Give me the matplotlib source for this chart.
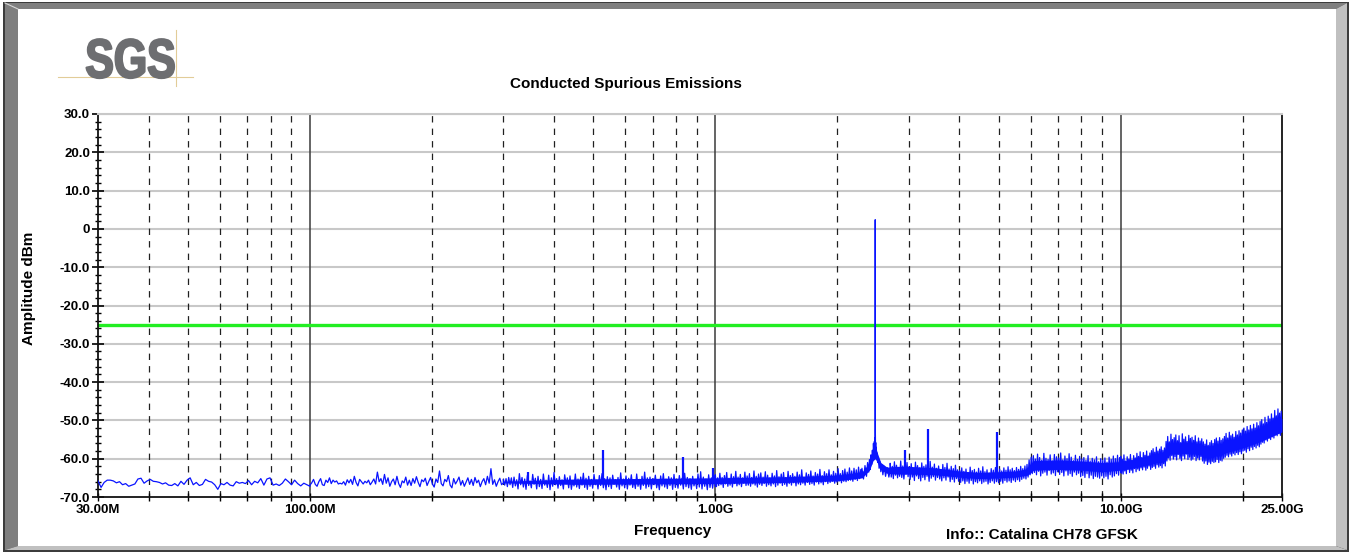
import numpy as np
import matplotlib
matplotlib.use('Agg')
import matplotlib.pyplot as plt
from matplotlib.patches import Polygon
from matplotlib.patheffects import AbstractPathEffect
from matplotlib.transforms import Affine2D
from matplotlib.ticker import FixedLocator, FixedFormatter, NullFormatter

# ---------------- data (frequency in MHz, amplitude in dBm) ----------------
title = "Conducted Spurious Emissions"
x_label = "Frequency"
y_label = "Amplitude dBm"
info_text = "Info:: Catalina CH78 GFSK"
logo_text = "SGS"

limit_dbm = -25.0

x_tick_mhz = [30, 100, 1000, 10000, 25000]
x_tick_labels = ["30.00M", "100.00M", "1.00G", "10.00G", "25.00G"]
y_tick_vals = [30, 20, 10, 0, -10, -20, -30, -40, -50, -60, -70]
y_tick_labels = ["30.0", "20.0", "10.0", "0", "-10.0", "-20.0", "-30.0",
                 "-40.0", "-50.0", "-60.0", "-70.0"]
grid_decades = [100, 1000, 10000]
grid_minor = [40, 50, 60, 70, 80, 90, 200, 300, 400, 500, 600, 700, 800, 900,
              2000, 3000, 4000, 5000, 6000, 7000, 8000, 9000, 20000]

# sweep segments: (start MHz, stop MHz) and read-off amplitudes
seg_a_range = (30, 100)
seg_a = [-65.8, -67.5, -66.2, -65.6, -65.6, -65.8, -66.3, -66.0, -66.8, -66.5,
         -67.2, -66.9, -66.6, -65.3, -65.1, -66.4, -65.8, -65.4, -65.9, -66.0,
         -66.2, -66.6, -66.3, -66.9, -67.0, -66.5, -67.1, -65.9, -66.7, -65.6,
         -65.0, -66.8, -66.2, -67.0, -66.7, -65.4, -65.9, -66.1, -66.8, -68.0,
         -66.5, -66.8, -66.2, -66.9, -67.1, -66.0, -66.4, -66.2, -66.5, -65.7,
         -66.8, -65.9, -66.3, -65.2, -66.9, -65.3, -65.0, -66.9, -66.6, -67.0,
         -66.4, -65.3, -66.0, -66.8, -65.6, -66.5, -67.1, -66.4, -66.8, -67.2]

seg_b_range = (100, 300)
seg_b = [-66.9, -66.3, -65.4, -66.7, -67.2, -66.0, -65.2, -66.8, -67.0, -65.6,
         -66.2, -65.0, -66.5, -65.6, -66.1, -65.8, -66.6, -66.4, -66.6, -66.0,
         -66.9, -65.5, -66.3, -65.4, -66.7, -64.6, -66.2, -67.1, -65.4, -66.0,
         -66.6, -65.9, -66.3, -65.6, -66.8, -66.1, -65.3, -66.6, -63.5, -66.0,
         -65.2, -66.7, -64.1, -66.4, -65.0, -67.2, -66.0, -65.3, -66.8, -64.6,
         -66.5, -67.5, -65.8, -66.3, -64.8, -66.9, -65.6, -67.0, -65.2, -66.4,
         -64.7, -66.2, -67.3, -65.5, -66.0, -65.1, -67.0, -65.9, -64.9, -66.6,
         -67.4, -65.3, -66.2, -63.2, -66.5, -67.1, -65.4, -66.0, -64.4, -66.9,
         -67.6, -65.2, -66.6, -65.8, -64.8, -66.9, -65.7, -67.2, -66.1, -65.0,
         -66.7, -65.4, -67.0, -64.9, -66.3, -65.6, -67.3, -66.0, -65.2, -66.8,
         -64.6, -66.4, -62.6, -66.7, -65.5, -67.2, -66.0, -65.1, -66.8, -66.3]

seg_c_range = (300, 1000)
seg_c = [-65.4, -66.9, -65.2, -67.3, -64.9, -66.8, -65.0, -67.5, -64.8, -67.1,
         -65.5, -67.9, -63.9, -66.8, -64.9, -67.4, -65.3, -68.0, -64.4, -67.0,
         -65.8, -67.6, -64.1, -66.7, -65.1, -67.9, -64.6, -67.3, -65.4, -67.8,
         -64.0, -66.9, -65.6, -67.5, -64.3, -68.1, -65.0, -67.2, -63.6, -66.8,
         -65.2, -67.7, -64.7, -67.0, -65.5, -67.9, -64.2, -66.6, -65.0, -67.6,
         -64.5, -68.0, -65.7, -67.1, -64.0, -67.4, -65.3, -67.8, -64.8, -66.9,
         -63.8, -67.5, -65.1, -68.0, -64.6, -67.2, -65.4, -67.7, -64.1, -66.8,
         -65.6, -67.9, -64.4, -67.0, -63.9, -67.6, -65.2, -68.1, -64.7, -67.3,
         -65.0, -67.8, -64.3, -66.7, -65.5, -67.4, -64.9, -68.0, -63.7, -67.1,
         -65.3, -67.6, -64.5, -67.9, -65.1, -66.9, -64.2, -67.5, -65.6, -67.8,
         -64.0, -67.2, -65.4, -68.0, -64.6, -67.0, -63.5, -67.7, -65.0, -67.3,
         -64.8, -67.9, -65.2, -66.8, -64.3, -67.6, -65.7, -68.1, -64.5, -67.1,
         -63.9, -67.4, -65.3, -67.8, -64.7, -67.0, -65.0, -68.0, -64.1, -67.5,
         -65.5, -67.7, -64.4, -66.9, -65.1, -67.9, -63.8, -67.3, -64.9, -67.6,
         -65.2, -68.0, -64.6, -67.1, -65.4, -67.8, -64.0, -67.4, -63.4, -67.9,
         -64.8, -67.2, -65.3, -68.1, -64.2, -67.5, -65.0, -67.7, -64.5, -67.3]

seg_d_range = (1000, 2300)
seg_d = [-64.2, -67.3, -65.0, -67.0, -63.8, -66.8, -64.9, -67.5, -64.4, -66.6,
         -63.6, -67.2, -65.1, -66.9, -64.0, -67.4, -64.7, -66.5, -63.3, -67.1,
         -64.8, -66.8, -64.1, -67.3, -65.0, -66.4, -63.5, -67.0, -64.5, -66.9,
         -63.9, -67.2, -64.9, -66.6, -63.2, -66.9, -64.6, -67.4, -64.0, -66.7,
         -63.7, -67.0, -64.8, -66.5, -63.4, -67.2, -64.3, -66.8, -65.0, -67.1,
         -63.8, -66.6, -64.5, -67.3, -63.1, -66.9, -64.7, -66.4, -64.0, -67.0,
         -63.6, -66.7, -64.9, -67.2, -63.3, -66.5, -64.4, -66.9, -63.9, -66.3,
         -64.6, -67.1, -63.5, -66.6, -64.2, -66.8, -62.9, -66.4, -64.8, -66.9,
         -63.7, -66.2, -64.1, -66.7, -63.2, -66.5, -64.5, -66.9, -63.6, -66.1,
         -64.0, -66.6, -62.8, -66.3, -64.4, -66.8, -63.4, -66.0, -63.9, -66.5,
         -62.9, -66.2, -64.2, -65.9, -63.3, -66.4, -63.8, -66.1, -62.6, -65.8,
         -63.9, -66.3, -63.1, -65.9, -62.7, -66.0, -63.5, -65.7, -62.4, -65.6,
         -63.2, -65.9, -62.5, -65.4, -62.9, -65.7, -62.2, -65.2, -62.8, -64.9]

peak_mhz = [2300, 2320, 2340, 2360, 2375, 2390, 2400, 2410, 2420, 2430,
            2440, 2448, 2455, 2462, 2468, 2472, 2475, 2477, 2478, 2479,
            2480, 2481, 2482, 2484, 2487, 2490, 2495, 2500, 2507, 2515,
            2525, 2535, 2548, 2560, 2575, 2590, 2610, 2630, 2655, 2680, 2700]
peak_dbm = [-62.5, -65.3, -61.8, -64.6, -61.0, -63.5, -60.2, -62.8, -59.0, -61.5,
            -57.8, -60.2, -56.0, -59.0, -55.5, -57.0, -54.5, -56.5, -52.0, -30.0,
            2.4, -30.0, -53.0, -56.8, -55.8, -58.2, -57.0, -59.6, -58.5, -61.0,
            -59.8, -62.5, -60.8, -63.4, -61.6, -64.2, -62.0, -64.6, -62.3, -64.8,
            -63.0]

seg_e_range = (2700, 10000)
seg_e = [-61.2, -64.8, -62.0, -65.2, -60.8, -64.3, -61.7, -65.0, -62.3, -64.6,
         -60.6, -64.9, -61.9, -65.3, -62.4, -64.1, -61.0, -64.7,
         -62.1, -65.4, -61.3, -64.8, -62.6, -65.7, -60.9, -64.5, -61.8, -65.2,
         -62.4, -65.8, -61.1, -64.9, -62.0, -65.5, -61.6, -64.6, -62.8, -65.9,
         -60.7, -65.1, -62.2, -64.7, -61.4, -65.6, -62.5, -64.9, -61.9, -65.3,
         -62.9, -65.8, -61.5, -65.0, -62.3, -65.6, -61.2, -64.8, -62.7, -66.0,
         -62.0, -65.4, -62.6, -66.1, -61.7, -65.2, -62.9, -65.9,
         -63.0, -66.2, -62.4, -65.8, -63.3, -66.5, -62.7, -65.9, -63.6, -66.4,
         -62.2, -65.7, -63.1, -66.6, -62.8, -66.0, -63.5, -66.3, -62.5, -65.8,
         -63.2, -66.5, -62.1, -66.1, -63.4, -65.9, -62.9, -66.6, -63.7, -66.2,
         -62.6, -65.8, -63.0, -66.4, -62.3, -66.0, -63.3,
         -66.3, -62.7, -65.9, -63.2, -66.4, -62.4, -65.7, -63.0, -66.1, -62.1,
         -65.8, -62.9, -66.2, -62.5, -65.6, -63.1, -66.0, -62.3, -65.5, -62.8,
         -65.9, -62.0, -65.4, -62.6, -65.1, -61.9, -65.3, -61.5,
         -64.8, -60.3, -64.2, -59.6, -63.9,
         -59.2, -63.6, -60.1, -64.2, -58.8, -63.3, -59.7, -64.5, -60.4, -63.8,
         -58.6, -63.5, -59.9, -64.3, -60.2, -63.1, -59.0, -64.0, -60.6, -63.7,
         -58.9, -64.4, -59.5, -63.4,
         -59.8, -64.1, -58.5, -63.6, -60.3, -64.5, -59.3, -63.2, -60.0, -64.3,
         -58.7, -63.9, -59.6, -64.6, -60.5, -63.5, -59.1, -64.2, -60.2, -63.8,
         -59.4, -64.7, -60.1,
         -64.4, -59.7, -64.9, -60.4, -63.9, -59.2, -65.0, -60.6, -64.3, -59.9,
         -65.2, -60.3, -64.6, -59.5, -64.8, -60.8, -65.1, -60.0, -64.5,
         -60.4, -65.0, -59.8, -64.6, -60.9, -65.3, -59.6, -64.2, -60.2, -64.8,
         -59.3, -64.5, -60.0, -63.9, -59.1, -64.3, -59.7, -63.6]

seg_f_range = (10000, 25000)
seg_f = [-59.4, -63.8, -60.2, -64.0, -59.0, -63.2, -60.6, -63.9, -59.5, -62.8,
         -60.1, -63.6, -58.9, -63.0, -60.4, -63.7, -59.2, -62.6, -59.8, -63.4,
         -58.6, -62.7, -59.4, -63.1, -58.2, -62.4, -59.7, -62.9, -58.4, -62.2,
         -59.1, -63.0, -58.0, -62.5, -59.3, -61.9, -58.5, -62.8, -57.9, -62.3,
         -57.4, -62.0, -58.3, -62.5, -57.0, -61.6, -58.0, -62.2, -57.5, -61.8,
         -56.9, -62.4, -57.8, -61.3, -57.2, -61.9, -55.5, -60.6,
         -54.2, -59.8, -55.6, -60.4, -53.6, -59.2, -55.0, -60.1, -54.5, -59.5,
         -53.8, -60.3, -55.3, -58.9, -54.0, -59.9, -55.8, -60.5, -53.5, -59.3,
         -54.9, -60.0, -54.3, -58.8, -55.5, -60.2, -53.9, -59.6, -54.7, -60.4,
         -54.4, -60.1, -55.2, -59.4, -54.0, -60.5, -55.6, -59.8, -54.6, -60.3,
         -55.4, -59.5, -54.8, -60.6,
         -55.6, -61.2, -56.2, -60.6, -55.1, -61.5, -56.5, -60.9, -55.8, -61.3,
         -55.3, -60.7, -56.0, -61.0,
         -55.0, -60.8, -54.6, -60.2, -55.4, -61.0, -54.5, -60.4, -55.2, -60.6,
         -54.8, -59.9,
         -54.2, -59.6, -53.4, -59.1, -54.6, -59.5, -53.1, -58.8, -54.0, -59.3,
         -53.6, -58.6, -54.4, -59.0, -52.9, -58.4, -53.8, -58.9, -52.7, -58.2,
         -53.3, -58.7, -52.5, -58.0,
         -52.0, -57.8, -52.8, -58.3, -51.6, -57.4, -52.5, -57.9, -51.3, -57.0,
         -52.2, -57.6, -51.0, -56.8, -52.0, -57.2, -50.6, -56.5, -51.4, -56.9,
         -50.3, -56.2, -49.8, -55.7, -50.9, -55.9, -49.2, -55.1, -50.5, -55.4,
         -48.9, -54.7, -49.6, -55.0, -48.3, -54.3, -49.4, -54.6, -47.4, -53.8,
         -48.8, -54.0, -47.0, -53.4, -48.1, -53.9, -47.6, -53.0]

# dense noise band core
band_mhz = [300, 450, 1000, 1500, 2000, 2300, 2400, 2450, 2480, 2510, 2560,
            2650, 2800, 3000, 3500, 4000, 4500, 5000, 5500, 5900, 6100, 7000,
            8000, 9000, 10000, 11000, 12000, 12800, 13200, 15000, 16000, 17000,
            18000, 20000, 22000, 25000]
band_lo = [-66.3, -66.7, -66.5, -66.2, -65.8, -65.0, -63.0, -60.5, -60.0, -61.0,
           -62.8, -63.8, -64.0, -64.0, -64.2, -64.8, -65.2, -65.0, -64.8, -64.3,
           -63.0, -62.8, -63.0, -63.4, -63.0, -62.2, -61.2, -60.8, -58.8, -58.6,
           -59.2, -59.4, -58.6, -57.2, -55.6, -53.0]
band_hi = [-65.9, -65.3, -65.0, -64.7, -64.3, -63.5, -61.0, -58.0, -56.5, -58.5,
           -61.0, -62.2, -62.0, -62.0, -62.4, -63.2, -63.6, -63.4, -63.2, -62.6,
           -60.5, -60.3, -60.6, -61.0, -60.8, -60.0, -59.0, -58.5, -56.0, -55.8,
           -56.5, -56.8, -56.0, -54.2, -52.6, -49.5]

# isolated spurious spikes
spike_mhz = [346, 528, 834, 989, 2930, 3340, 4960]
spike_base = [-66.0, -66.0, -66.0, -66.0, -63.0, -63.0, -64.0]
spike_top = [-63.5, -57.7, -59.6, -62.4, -57.7, -52.2, -53.0]


class XScaleEffect(AbstractPathEffect):
    """Squeeze text glyphs horizontally around x0 (display px) and embolden."""
    def __init__(self, sx, x0, stroke):
        super().__init__()
        self.sx, self.x0, self.stroke = sx, x0, stroke

    def draw_path(self, renderer, gc, tpath, affine, rgbFace=None):
        aff = affine + Affine2D().translate(-self.x0, 0).scale(self.sx, 1) \
            .translate(self.x0, 0)
        gc0 = renderer.new_gc()
        gc0.copy_properties(gc)
        gc0.set_linewidth(self.stroke)
        gc0.set_foreground(rgbFace)
        renderer.draw_path(gc0, tpath, aff, rgbFace)
        gc0.restore()


# ---------------- figure ----------------
W, H = 1350, 552
plt.rcParams['lines.scale_dashes'] = False
FONT = ['Liberation Sans', 'DejaVu Sans']
plt.rcParams['font.family'] = FONT

fig = plt.figure(figsize=(W / 100, H / 100), dpi=100)
fig.patch.set_facecolor('white')

# beveled frame
bg = fig.add_axes([0, 0, 1, 1], zorder=-5)
bg.set_xlim(0, W)
bg.set_ylim(H, 0)
bg.axis('off')
bg.add_patch(Polygon([(3, 2), (1349, 2), (1349, 552), (3, 552)], closed=True,
                     facecolor='#3c3c3c', edgecolor='none'))
bg.add_patch(Polygon([(5, 3), (1347, 3), (1336, 9), (18, 9)], closed=True,
                     facecolor='#7f7f7f', edgecolor='none'))
bg.add_patch(Polygon([(5, 3), (18, 9), (18, 546), (5, 550)], closed=True,
                     facecolor='#7f7f7f', edgecolor='none'))
bg.add_patch(Polygon([(1347, 3), (1336, 9), (1336, 546), (1347, 550)], closed=True,
                     facecolor='#c0c0c0', edgecolor='none'))
bg.add_patch(Polygon([(5, 550), (18, 546), (1336, 546), (1347, 550)], closed=True,
                     facecolor='#c0c0c0', edgecolor='none'))
bg.add_patch(Polygon([(18, 9), (1336, 9), (1336, 546), (18, 546)], closed=True,
                     facecolor='white', edgecolor='none'))
bg.plot([5, 18], [3, 9], color='#d8d8d8', lw=0.8)

# SGS logo
bg.plot([58, 193], [77, 77], color='#e2cc98', lw=0.8)
bg.plot([176, 176], [30, 86], color='#e2cc98', lw=0.8)
bg.text(130.5, 77.5, logo_text, ha='center', va='baseline', fontsize=39.5,
        fontweight='bold', color='#6d6e71',
        path_effects=[XScaleEffect(0.78, 130.5, 1.6)])

# texts
fig.text(626 / W, 1 - 84 / H, title, ha='center', va='center',
         fontsize=11, fontweight='bold')
fig.text(673 / W, 1 - 531 / H, x_label, ha='center', va='center',
         fontsize=11, fontweight='bold')
fig.text(1042 / W, 1 - 535 / H, info_text, ha='center', va='center',
         fontsize=11, fontweight='bold')
fig.text(29 / W, 1 - 288 / H, y_label, ha='center', va='center',
         rotation=90, fontsize=11, fontweight='bold')

# main axes
ax = fig.add_axes([98 / W, 1 - 497 / H, (1282 - 98) / W, (497 - 114) / H])
ax.set_xscale('log')
ax.set_xlim(30, 25000)
ax.set_ylim(-70, 30)
ax.set_facecolor('white')

for y in y_tick_vals:
    if y > -70:
        ax.axhline(y, color='#c8c8c8', lw=1.5, zorder=1)
for f in grid_minor:
    ax.axvline(f, color='#202020', lw=0.9, dashes=(4.6, 4.4), zorder=1.2)
for f in grid_decades:
    ax.axvline(f, color='#3a3a3a', lw=1.1, zorder=1.2)

ax.axhline(limit_dbm, color='#22ee22', lw=2.4, zorder=2)

xs, ys = [], []
for (f0, f1), vals in [(seg_a_range, seg_a), (seg_b_range, seg_b),
                       (seg_c_range, seg_c), (seg_d_range, seg_d)]:
    xs.extend(np.geomspace(f0, f1, len(vals)))
    ys.extend(vals)
xs.extend(peak_mhz)
ys.extend(peak_dbm)
for (f0, f1), vals in [(seg_e_range, seg_e), (seg_f_range, seg_f)]:
    xs.extend(np.geomspace(f0, f1, len(vals)))
    ys.extend(vals)

blue = '#0a14ff'
ax.fill_between(band_mhz, band_lo, band_hi, color=blue, lw=0, zorder=3)
ax.plot(xs, ys, color=blue, lw=0.9, zorder=4)
ax.vlines(spike_mhz, spike_base, spike_top, color=blue, lw=1.6, zorder=4)

# spines
for s in ['left', 'bottom', 'right']:
    ax.spines[s].set_color('#111111')
    ax.spines[s].set_linewidth(1.3)
ax.spines['top'].set_color('#c8c8c8')
ax.spines['top'].set_linewidth(1.5)

# ticks
ax.yaxis.set_major_locator(FixedLocator(y_tick_vals))
ax.yaxis.set_major_formatter(FixedFormatter(y_tick_labels))
ax.yaxis.set_minor_locator(FixedLocator(list(range(-70, 31, 2))))
ax.yaxis.set_minor_formatter(NullFormatter())
ax.tick_params(axis='y', which='major', direction='inout', length=8.5,
               width=1.2, pad=1.5, labelsize=9.5, left=True, right=False)
ax.tick_params(axis='y', which='minor', direction='inout', length=4.5,
               width=1.0, left=True, right=False)

ax.xaxis.set_major_locator(FixedLocator(x_tick_mhz))
ax.xaxis.set_major_formatter(FixedFormatter(x_tick_labels))
ax.xaxis.set_minor_locator(FixedLocator(grid_minor))
ax.xaxis.set_minor_formatter(NullFormatter())
ax.tick_params(axis='x', which='both', direction='inout', length=5.5,
               width=1.0, pad=2.5, labelsize=9.5, top=False)
for lab in ax.get_xticklabels() + ax.get_yticklabels():
    lab.set_fontweight('bold')

fig.savefig('out.png', dpi=100)
